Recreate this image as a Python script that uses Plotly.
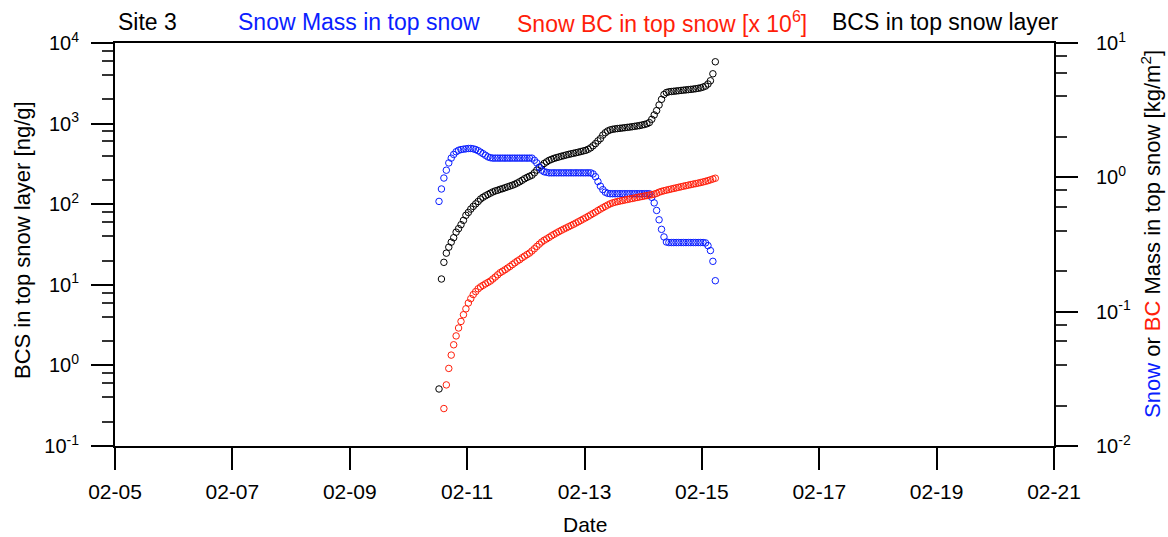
import plotly.graph_objects as go
import pandas as pd

# ---------------- data ----------------
start_time = "2019-02-10 12:30"
n_points = 114
times = pd.date_range(start_time, periods=n_points, freq="h")

# BCS in top snow layer [ng/g]  (left axis)
bcs = [0.51, 11.8, 19, 24.7, 29.3, 33.8, 38.4, 45, 49.7, 55.7,
       63, 72.8, 79, 87, 94, 101, 108, 116, 122, 127,
       132, 137, 142, 146, 149, 153, 156, 160, 164, 168,
       172, 177, 183, 190, 198, 207, 215, 222, 229, 245,
       265, 285, 300, 320, 335, 350, 360, 370, 378, 385,
       393, 400, 408, 415, 422, 428, 435, 442, 450, 458,
       466, 480, 500, 530, 565, 610, 650, 720, 770, 810,
       835, 850, 860, 868, 875, 882, 890, 898, 905, 915,
       925, 935, 945, 960, 975, 995, 1030, 1130, 1280, 1450,
       1700, 2000, 2300, 2430, 2480, 2500, 2520, 2540, 2560, 2580,
       2600, 2620, 2640, 2660, 2680, 2710, 2740, 2780, 2840, 2920,
       3100, 3400, 4150, 5850]

# Snow mass in top snow [kg/m2]  (right axis)
snow_mass = [0.662, 0.819, 0.988, 1.13, 1.28, 1.39, 1.48, 1.55, 1.59, 1.61,
             1.62, 1.63, 1.64, 1.64, 1.63, 1.61, 1.58, 1.54, 1.50, 1.46,
             1.42, 1.40, 1.39, 1.39, 1.39, 1.39, 1.39, 1.39, 1.39, 1.39,
             1.39, 1.39, 1.39, 1.39, 1.39, 1.39, 1.39, 1.39, 1.39, 1.34,
             1.28, 1.19, 1.13, 1.10, 1.09, 1.08, 1.08, 1.08, 1.08, 1.08,
             1.08, 1.08, 1.08, 1.08, 1.08, 1.08, 1.08, 1.08, 1.08, 1.08,
             1.08, 1.08, 1.08, 1.06, 1.01, 0.93, 0.86, 0.81, 0.775, 0.76,
             0.755, 0.755, 0.755, 0.755, 0.755, 0.755, 0.755, 0.755, 0.755, 0.755,
             0.755, 0.755, 0.755, 0.755, 0.755, 0.755, 0.755, 0.71, 0.645, 0.567,
             0.483, 0.41, 0.36, 0.33, 0.327, 0.327, 0.327, 0.327, 0.327, 0.327,
             0.327, 0.327, 0.327, 0.327, 0.327, 0.327, 0.327, 0.327, 0.327, 0.325,
             0.31, 0.285, 0.237, 0.170]

# Snow BC in top snow [x 1e6 kg/m2]  (right axis)
snow_bc = [None, None, 0.019, 0.0285, 0.0378, 0.0475, 0.0567, 0.066, 0.0756, 0.0846,
           0.0949, 0.105, 0.116, 0.125, 0.134, 0.141, 0.148, 0.153, 0.157, 0.161,
           0.165, 0.169, 0.175, 0.181, 0.188, 0.195, 0.200, 0.205, 0.211, 0.217,
           0.224, 0.231, 0.238, 0.244, 0.252, 0.259, 0.266, 0.273, 0.283, 0.294,
           0.306, 0.318, 0.330, 0.340, 0.348, 0.357, 0.367, 0.376, 0.385, 0.394,
           0.403, 0.412, 0.420, 0.429, 0.438, 0.447, 0.457, 0.467, 0.478, 0.489,
           0.500, 0.512, 0.525, 0.538, 0.551, 0.566, 0.580, 0.594, 0.608, 0.622,
           0.635, 0.645, 0.653, 0.660, 0.666, 0.672, 0.678, 0.684, 0.690, 0.696,
           0.702, 0.708, 0.714, 0.720, 0.726, 0.731, 0.737, 0.743, 0.750, 0.760,
           0.775, 0.786, 0.795, 0.803, 0.811, 0.819, 0.827, 0.835, 0.843, 0.851,
           0.859, 0.867, 0.875, 0.883, 0.891, 0.898, 0.906, 0.915, 0.924, 0.934,
           0.945, 0.958, 0.972, 0.985]

x_tick_dates = ["2019-02-05", "2019-02-07", "2019-02-09", "2019-02-11", "2019-02-13",
                "2019-02-15", "2019-02-17", "2019-02-19", "2019-02-21"]
x_tick_labels = ["02-05", "02-07", "02-09", "02-11", "02-13", "02-15", "02-17", "02-19", "02-21"]

y1_tick_vals = [0.1, 1, 10, 100, 1000, 10000]
y1_tick_text = ["10<sup>-1</sup>", "10<sup>0</sup>", "10<sup>1</sup>", "10<sup>2</sup>",
                "10<sup>3</sup>", "10<sup>4</sup>"]
y2_tick_vals = [0.01, 0.1, 1, 10]
y2_tick_text = ["10<sup>-2</sup>", "10<sup>-1</sup>", "10<sup>0</sup>", "10<sup>1</sup>"]

# ---------------- figure ----------------
BLUE = "#0a1eff"
RED = "#ff1e0a"
BLACK = "#000000"
FONT = "Liberation Sans, Arial, Helvetica, sans-serif"
MSIZE = 6.5

fig = go.Figure()
fig.add_trace(go.Scatter(x=times, y=bcs, mode="markers", name="BCS",
                         marker=dict(symbol="circle-open", size=MSIZE, color=BLACK,
                                     line=dict(width=1, color=BLACK)),
                         yaxis="y"))
fig.add_trace(go.Scatter(x=times, y=snow_mass, mode="markers", name="Snow Mass",
                         marker=dict(symbol="circle-open", size=MSIZE, color=BLUE,
                                     line=dict(width=1, color=BLUE)),
                         yaxis="y2"))
fig.add_trace(go.Scatter(x=times, y=snow_bc, mode="markers", name="Snow BC",
                         marker=dict(symbol="circle-open", size=MSIZE, color=RED,
                                     line=dict(width=1, color=RED)),
                         yaxis="y2"))


def minor_vals(lo_exp, hi_exp):
    return [m * 10.0 ** e for e in range(lo_exp, hi_exp) for m in (2, 4, 6, 8)]


axis_common = dict(showgrid=False, zeroline=False, showline=True, linecolor="black",
                   linewidth=2, ticks="outside", ticklen=22, tickwidth=2,
                   tickcolor="black", tickfont=dict(family=FONT, size=20, color="black"))

fig.update_layout(
    width=1168, height=537,
    margin=dict(l=115, r=114, t=43, b=91),
    paper_bgcolor="white", plot_bgcolor="white",
    showlegend=False,
    font=dict(family=FONT, color="black"),
    xaxis=dict(type="date", range=["2019-02-05", "2019-02-21"],
               tickvals=x_tick_dates, ticktext=x_tick_labels,
               showgrid=False, zeroline=False, showline=True, linecolor="black",
               linewidth=2, mirror=True, ticks="outside", ticklen=22, tickwidth=2,
               tickcolor="black", tickfont=dict(family=FONT, size=21, color="black"),
               ticklabelstandoff=4),
    yaxis=dict(type="log", range=[-1, 4], tickvals=y1_tick_vals, ticktext=y1_tick_text,
               minor=dict(tickvals=minor_vals(-1, 4), ticks="outside", ticklen=11,
                          tickwidth=1.5, tickcolor="#333"),
               ticklabelstandoff=8, **axis_common),
    yaxis2=dict(type="log", range=[-2, 1], tickvals=y2_tick_vals, ticktext=y2_tick_text,
                overlaying="y", side="right", anchor="x",
                minor=dict(tickvals=minor_vals(-2, 1), ticks="outside", ticklen=11,
                           tickwidth=1.5, tickcolor="#333"),
                ticklabelstandoff=14, **axis_common),
)

PLOT_L, PLOT_R, PLOT_T, PLOT_B = 115, 1054, 43, 446


def px(xp):
    return (xp - PLOT_L) / (PLOT_R - PLOT_L)


def py(yp):
    return (PLOT_B - yp) / (PLOT_B - PLOT_T)


annots = [
    dict(text="Site 3", x=px(116), xanchor="left", color=BLACK),
    dict(text="Snow Mass in top snow", x=px(358.5), xanchor="center", color=BLUE),
    dict(text="Snow BC in top snow [x 10<sup>6</sup>]", x=px(661.5), xanchor="center", color=RED),
    dict(text="BCS in top snow layer", x=px(1061), xanchor="right", color=BLACK),
]
for a in annots:
    fig.add_annotation(text=a["text"], x=a["x"], y=py(22), xref="paper", yref="paper",
                       xanchor=a["xanchor"], yanchor="middle", showarrow=False,
                       font=dict(family=FONT, size=23, color=a["color"]))

# axis titles
fig.add_annotation(text="BCS in top snow layer [ng/g]", x=px(23), y=py(240),
                   xref="paper", yref="paper", xanchor="center", yanchor="middle",
                   textangle=-90, showarrow=False,
                   font=dict(family=FONT, size=22, color="black"))
fig.add_annotation(text=('<span style="color:%s">Snow</span> or '
                         '<span style="color:%s">BC</span> Mass in top snow [kg/m<sup>2</sup>]'
                         % (BLUE, RED)),
                   x=px(1151), y=py(234), xref="paper", yref="paper",
                   xanchor="center", yanchor="middle", textangle=-90, showarrow=False,
                   font=dict(family=FONT, size=22, color="black"))
fig.add_annotation(text="Date", x=px(584.5), y=py(524), xref="paper", yref="paper",
                   xanchor="center", yanchor="middle", showarrow=False,
                   font=dict(family=FONT, size=21, color="black"))

fig.write_html("out.html", config={"displayModeBar": False},
               post_script="document.body.style.margin='0px';document.body.style.padding='0px';")
